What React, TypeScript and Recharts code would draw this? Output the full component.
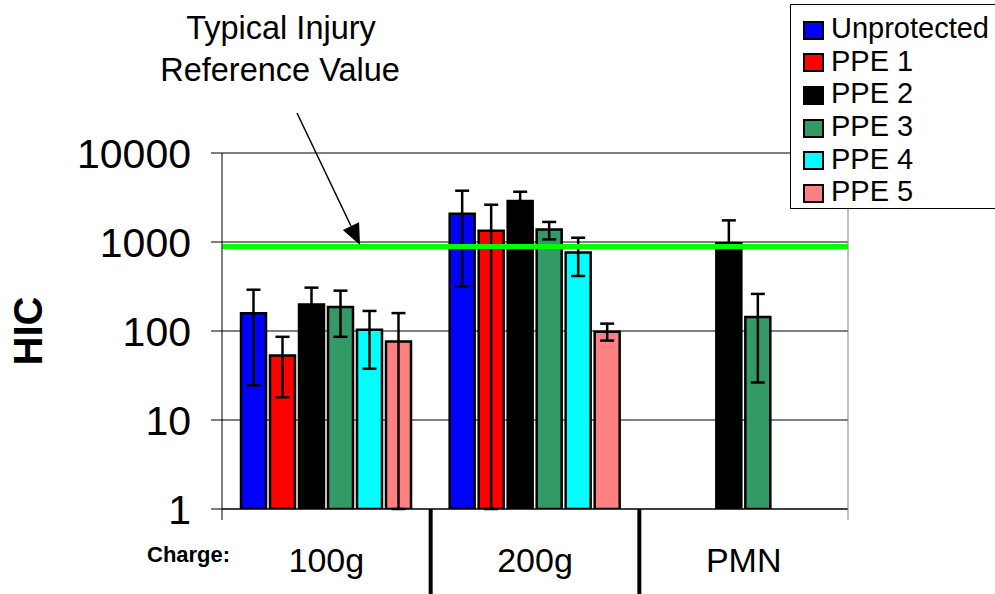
import {
  BarChart, Bar, XAxis, YAxis, CartesianGrid, ErrorBar, ReferenceLine, Legend,
} from 'recharts';

const categories = ['100g', '200g', 'PMN'];
const yTicks = [1, 10, 100, 1000, 10000];
const injuryReference = 890;

// HIC means and error bar bounds (low / high)
const unprotected = [158, 2080, null];
const unprotectedLow = [24.5, 317, null];
const unprotectedHigh = [291, 3770, null];

const ppe1 = [53, 1340, null];
const ppe1Low = [18, 1, null];
const ppe1High = [86, 2625, null];

const ppe2 = [199, 2885, 970];
const ppe2Low = [150, 2200, 600];
const ppe2High = [307, 3670, 1750];

const ppe3 = [186, 1386, 144];
const ppe3Low = [86, 1070, 26.4];
const ppe3High = [284, 1680, 261];

const ppe4 = [103, 764, null];
const ppe4Low = [37.7, 415, null];
const ppe4High = [168, 1117, null];

const ppe5 = [76, 98, null];
const ppe5Low = [1, 78, null];
const ppe5High = [159, 121, null];

const SERIES = [
  { key: 'unprotected', name: 'Unprotected', color: '#0000ff', values: unprotected, low: unprotectedLow, high: unprotectedHigh },
  { key: 'ppe1', name: 'PPE 1', color: '#ff0000', values: ppe1, low: ppe1Low, high: ppe1High },
  { key: 'ppe2', name: 'PPE 2', color: '#000000', values: ppe2, low: ppe2Low, high: ppe2High },
  { key: 'ppe3', name: 'PPE 3', color: '#339966', values: ppe3, low: ppe3Low, high: ppe3High },
  { key: 'ppe4', name: 'PPE 4', color: '#00ffff', values: ppe4, low: ppe4Low, high: ppe4High },
  { key: 'ppe5', name: 'PPE 5', color: '#ff8080', values: ppe5, low: ppe5Low, high: ppe5High },
];

const data = categories.map((category, i) => {
  const row: Record<string, any> = { category };
  SERIES.forEach((s) => {
    const v = s.values[i];
    row[s.key] = v;
    row[s.key + 'Err'] = v == null ? null : [v - (s.low[i] as number), (s.high[i] as number) - v];
  });
  return row;
});

const W = 995;
const H = 594;
const PLOT_LEFT = 222;
const PLOT_RIGHT = 848;
const PLOT_TOP = 153;
const PLOT_BOTTOM = 509;
const BAND = (PLOT_RIGHT - PLOT_LEFT) / categories.length;
const FONT = '"Liberation Sans", Arial, sans-serif';

function CategoryTick({ x, y, payload }: any) {
  return (
    <text x={x} y={y + 63} textAnchor="middle" fontSize={34} fill="#000">
      {payload.value}
    </text>
  );
}

// legend keeps the series order (recharts sorts its payload by name)
function LegendBox() {
  return (
    <div style={{
      boxSizing: 'border-box', width: '100%', height: '100%', border: '1px solid #000',
      background: '#fff', paddingTop: 7, fontFamily: FONT,
    }}>
      {SERIES.map((s) => (
        <div key={s.key} style={{ display: 'flex', alignItems: 'center', height: 32.6 }}>
          <span style={{
            display: 'inline-block', boxSizing: 'border-box', width: 21, height: 19,
            border: '2.5px solid #000', background: s.color, marginLeft: 12, marginRight: 7, marginTop: 4,
          }} />
          <span style={{ fontSize: 29, lineHeight: '32px', color: '#000' }}>{s.name}</span>
        </div>
      ))}
    </div>
  );
}

function Annotations() {
  const start = { x: 297, y: 113 };
  const tip = { x: 360, y: 245 };
  const dx = tip.x - start.x;
  const dy = tip.y - start.y;
  const len = Math.sqrt(dx * dx + dy * dy);
  const ux = dx / len;
  const uy = dy / len;
  const headLen = 21;
  const headHalf = 9;
  const bx = tip.x - ux * headLen;
  const by = tip.y - uy * headLen;
  const head = `${tip.x},${tip.y} ${bx + uy * headHalf},${by - ux * headHalf} ${bx - uy * headHalf},${by + ux * headHalf}`;
  const separators = [1, 2].map((i) => PLOT_LEFT + BAND * i);

  return (
    <svg width={W} height={H} style={{ position: 'absolute', left: 0, top: 0, pointerEvents: 'none', fontFamily: FONT }}>
      <text x={281} y={39} textAnchor="middle" fontSize={32.5} fill="#000">Typical Injury</text>
      <text x={280} y={81} textAnchor="middle" fontSize={32.5} fill="#000">Reference Value</text>
      <line x1={start.x} y1={start.y} x2={bx} y2={by} stroke="#000" strokeWidth={1.5} />
      <polygon points={head} fill="#000" />
      <text transform="translate(42, 331) rotate(-90)" textAnchor="middle" fontSize={40} fontWeight="bold" fill="#000">HIC</text>
      <text x={147} y={562} fontSize={22} fontWeight="bold" fill="#000">Charge:</text>
      {separators.map((sx) => (
        <line key={sx} x1={sx} y1={PLOT_BOTTOM} x2={sx} y2={H} stroke="#000" strokeWidth={4} />
      ))}
      <line x1={PLOT_LEFT} y1={PLOT_BOTTOM} x2={PLOT_LEFT} y2={PLOT_BOTTOM + 11} stroke="#000" strokeWidth={1} />
      <line x1={PLOT_RIGHT} y1={PLOT_BOTTOM} x2={PLOT_RIGHT} y2={PLOT_BOTTOM + 11} stroke="#808080" strokeWidth={1} />
    </svg>
  );
}

export default function App() {
  return (
    <div style={{ position: 'absolute', left: 0, top: 0, width: W, height: H, background: '#fff', fontFamily: FONT }}>
      <BarChart
        width={W}
        height={H}
        data={data}
        margin={{ top: PLOT_TOP, right: W - PLOT_RIGHT - 1, bottom: 0, left: 0 }}
        barCategoryGap={19}
        barGap={4}
      >
        <CartesianGrid vertical={false} stroke="#000" strokeWidth={1} />
        <XAxis
          dataKey="category"
          height={H - PLOT_BOTTOM}
          axisLine={{ stroke: '#000', strokeWidth: 1 }}
          tickLine={false}
          tickSize={0}
          tickMargin={0}
          tick={<CategoryTick />}
        />
        <YAxis
          type="number"
          scale="log"
          domain={[1, 10000]}
          ticks={yTicks}
          allowDataOverflow
          width={PLOT_LEFT}
          axisLine={{ stroke: '#000', strokeWidth: 1 }}
          tickLine={{ stroke: '#000', strokeWidth: 1 }}
          tickSize={11}
          tickMargin={20}
          tick={{ fontSize: 41, fill: '#000' }}
        />
        <YAxis
          yAxisId="frame"
          orientation="right"
          type="number"
          scale="log"
          domain={[1, 10000]}
          ticks={yTicks}
          width={1}
          axisLine={{ stroke: '#808080', strokeWidth: 1 }}
          tickLine={false}
          tick={false}
        />
        {SERIES.map((s) => (
          <Bar
            key={s.key}
            dataKey={s.key}
            name={s.name}
            fill={s.color}
            stroke="#000"
            strokeWidth={2.5}
            isAnimationActive={false}
          >
            <ErrorBar dataKey={s.key + 'Err'} direction="y" width={7} stroke="#000" strokeWidth={2.5} />
          </Bar>
        ))}
        <ReferenceLine y={injuryReference} stroke="#00ff00" strokeWidth={5} />
        <Legend
          layout="vertical"
          align="center"
          verticalAlign="middle"
          content={<LegendBox />}
          wrapperStyle={{ top: 4, left: 790, width: 207, height: 205 }}
        />
      </BarChart>
      <Annotations />
    </div>
  );
}
